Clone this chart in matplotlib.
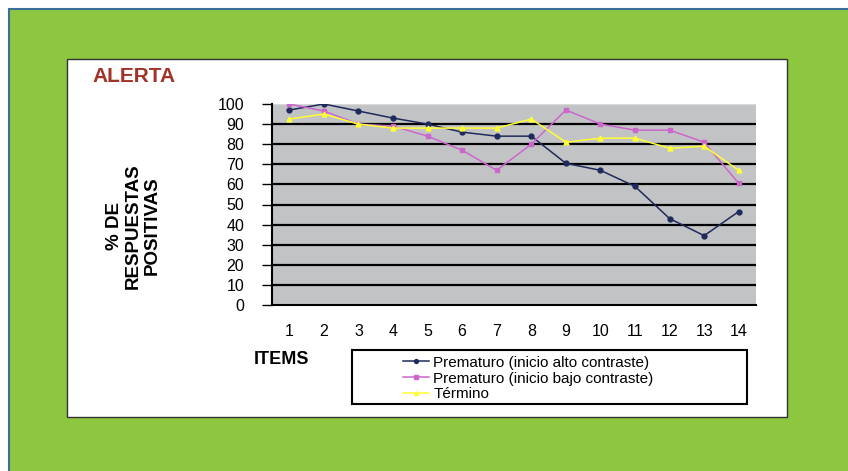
import numpy as np
import matplotlib.pyplot as plt
from matplotlib.patches import Rectangle

plt.rcParams['font.family'] = ['Liberation Sans', 'DejaVu Sans']

#----------------data
items = np.arange(1, 15)
alto = [97, 100, 96.5, 93, 90, 86, 84, 84, 70.5, 67, 59, 43, 34.5, 46.5]
bajo = [100, 96.5, 90, 89, 84, 77, 67, 80, 97, 90, 87, 87, 81, 60.5]
termino = [92.5, 95, 90, 88, 88, 88, 88, 92.5, 81, 83, 83, 78, 79, 67]
labels = ['Prematuro (inicio alto contraste)', 'Prematuro (inicio bajo contraste)', 'Término']
yticks = np.arange(0, 101, 10)

W, H = 848, 471

#----------------figure with green frame and white panel
fig = plt.figure(figsize=(W/100, H/100), dpi=100, facecolor='white')
green = Rectangle((9/W, -0.01), 1.0, 1-9/H+0.01, transform=fig.transFigure,
                  facecolor='#8dc63f', edgecolor='#3b6f9a', linewidth=1.5, zorder=-10)
fig.add_artist(green)
panel = Rectangle((67/W, 1-417/H), (787-67)/W, (417-59)/H,
                  transform=fig.transFigure, facecolor='white',
                  edgecolor='#333333', linewidth=1, zorder=-5)
fig.add_artist(panel)

ax = fig.add_axes([272/W, 1-305/H, 484/W, 201/H])
ax.set_zorder(2)
ax.set_facecolor('#c2c3c5')

ax.plot(items, alto, color='#1f2a5c', marker='o', markersize=3.5, linewidth=1.1, label=labels[0], zorder=3)
ax.plot(items, bajo, color='#cc66cc', marker='s', markersize=3.2, linewidth=1.1, label=labels[1], zorder=3)
ax.plot(items, termino, color='#ffff33', marker='^', markersize=3.5, linewidth=1.1, label=labels[2], zorder=3)

ax.set_xlim(0.5, 14.5)
ax.set_ylim(0, 100)
ax.set_yticks(yticks)
ax.set_xticks(items)
ax.tick_params(axis='y', length=7, width=1, direction='out', labelsize=11.5, pad=13)
ax.tick_params(axis='x', length=0, labelsize=11.5, pad=14)
for y in yticks[1:-1]:
    ax.axhline(y, color='black', linewidth=1.6, zorder=1)
ax.axhline(100, color='#d8d8d8', linewidth=1, zorder=1)
for s in ['top', 'right']:
    ax.spines[s].set_visible(False)
ax.spines['left'].set_linewidth(1.5)
ax.spines['bottom'].set_linewidth(1.5)

#----------------texts
fig.text(92/W, 1-77/H, 'ALERTA', color='#a33228', fontsize=15, fontweight='bold', va='center')
fig.text(133/W, 1-226/H, '% DE\nRESPUESTAS\nPOSITIVAS', rotation=90, fontsize=13.5,
         fontweight='bold', ha='center', va='center', multialignment='center', linespacing=1.15)
fig.text(254/W, 1-359/H, 'ITEMS', fontsize=13, fontweight='bold', va='center')

#----------------legend with box
box = Rectangle((352/W, 1-404/H), (747-352)/W, (404-350)/H,
                transform=fig.transFigure, facecolor='white',
                edgecolor='black', linewidth=1.5, zorder=1)
fig.add_artist(box)
fig.legend(loc='upper left', bbox_to_anchor=(392/W, 1-345/H), frameon=False,
           fontsize=11, handlelength=1.7, handletextpad=0.3, labelspacing=0.12,
           borderpad=0.2, markerscale=0.8)

fig.savefig('out.png', dpi=100, facecolor=fig.get_facecolor())
